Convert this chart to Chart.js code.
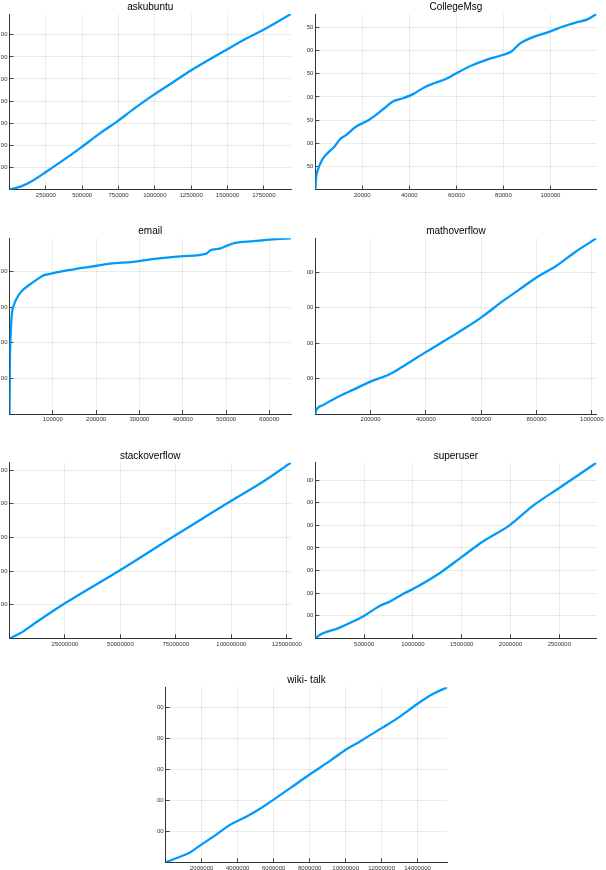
<!DOCTYPE html>
<html>
<head>
<meta charset="utf-8">
<script src="https://cdn.jsdelivr.net/npm/chart.js@4/dist/chart.umd.min.js"></script>
<style>
  html, body { margin: 0; padding: 0; background: #fff; }
  body { width: 606px; height: 870px; position: relative; overflow: hidden; }
  canvas { position: absolute; }
</style>
</head>
<body>
<canvas id="askubuntu"></canvas>
<canvas id="CollegeMsg"></canvas>
<canvas id="email"></canvas>
<canvas id="mathoverflow"></canvas>
<canvas id="stackoverflow"></canvas>
<canvas id="superuser"></canvas>
<canvas id="wikitalk"></canvas>
<script>
// values (y labels are cut off in the original)
const askubuntuX = [0, 80000, 162000, 250000, 375000, 496000, 620000, 737000, 860000, 989000, 1120000, 1242000, 1360000, 1471000, 1620000, 1758000, 1937000]
const askubuntuY = [0, 140, 410, 790, 1350, 1920, 2530, 3060, 3670, 4270, 4830, 5360, 5820, 6240, 6800, 7260, 7940]

const collegeX = [0, 425, 1100, 2600, 4000, 6100, 8200, 10400, 13200, 17400, 23100, 29500, 33000, 37300, 41600, 46500, 50800, 55700, 61400, 67000, 72800, 79900, 83400, 87000, 92600, 99700, 105400, 111000, 116000, 119600]
const collegeY = [0, 29, 43, 61, 72, 83, 93, 108, 118, 136, 151, 176, 190, 197, 206, 221, 230, 239, 255, 269, 280, 291, 298, 315, 329, 341, 352, 361, 368, 379]

const emailX = [0, 800, 2300, 5400, 10800, 17000, 26000, 47700, 63000, 78500, 101500, 132000, 163000, 201500, 232000, 286000, 340000, 401500, 455000, 463000, 486000, 501500, 521000, 563000, 617000, 650000]
const emailY = [0, 276, 426, 558, 616, 650, 684, 728, 754, 778, 790, 806, 818, 832, 844, 854, 872, 886, 900, 918, 928, 944, 960, 970, 982, 986]

const mathX = [0, 3600, 27700, 75900, 136000, 201000, 268700, 316900, 401000, 473500, 533700, 602000, 678000, 738600, 802400, 871000, 943000, 1017000]
const mathY = [0, 55, 125, 230, 340, 460, 560, 670, 875, 1045, 1190, 1365, 1590, 1755, 1930, 2085, 2290, 2475]

const stackX = [0, 4800000, 10800000, 25000000, 50000000, 75000000, 85800000, 100000000, 113000000, 126900000]
const stackY = [0, 300, 840, 2080, 4060, 6140, 7020, 8180, 9200, 10440]

const superX = [0, 44000, 232000, 386000, 498000, 659000, 761000, 898000, 1000000, 1273000, 1495000, 1717000, 1993000, 2229000, 2495000, 2707000, 2881000]
const superY = [0, 150, 440, 740, 990, 1430, 1620, 1960, 2180, 2880, 3580, 4280, 5010, 5860, 6640, 7260, 7770]

const wikiX = [0, 800000, 1350000, 2000000, 2650000, 3570000, 4500000, 5240000, 5980000, 6900000, 7980000, 9130000, 10000000, 10800000, 12000000, 13020000, 13980000, 14870000, 15650000]
const wikiY = [0, 360, 640, 1160, 1660, 2420, 2960, 3460, 4040, 4780, 5660, 6560, 7280, 7820, 8680, 9420, 10240, 10900, 11320]

// tick values
const askubuntuXTicks = [250000, 500000, 750000, 1000000, 1250000, 1500000, 1750000]
const askubuntuYTicks = [1000, 2000, 3000, 4000, 5000, 6000, 7000]
const collegeXTicks = [20000, 40000, 60000, 80000, 100000]
const collegeYTicks = [50, 100, 150, 200, 250, 300, 350]
const emailXTicks = [100000, 200000, 300000, 400000, 500000, 600000]
const emailYTicks = [200, 400, 600, 800]
const mathXTicks = [200000, 400000, 600000, 800000, 1000000]
const mathYTicks = [500, 1000, 1500, 2000]
const stackXTicks = [25000000, 50000000, 75000000, 100000000, 125000000]
const stackYTicks = [2000, 4000, 6000, 8000, 10000]
const superXTicks = [500000, 1000000, 1500000, 2000000, 2500000]
const superYTicks = [1000, 2000, 3000, 4000, 5000, 6000, 7000]
const wikiXTicks = [2000000, 4000000, 6000000, 8000000, 10000000, 12000000, 14000000]
const wikiYTicks = [2000, 4000, 6000, 8000, 10000]

const FONT = "'Liberation Sans', Arial, sans-serif"

// plot box: [axis left, top, right, bottom] in page pixels
const panels = [
  { id: "askubuntu", title: "askubuntu", xs: askubuntuX, ys: askubuntuY, xt: askubuntuXTicks, yt: askubuntuYTicks, box: [9.5, 14, 291, 189.5] },
  { id: "CollegeMsg", title: "CollegeMsg", xs: collegeX, ys: collegeY, xt: collegeXTicks, yt: collegeYTicks, box: [315.3, 14, 596.5, 189.5] },
  { id: "email", title: "email", xs: emailX, ys: emailY, xt: emailXTicks, yt: emailYTicks, box: [9.5, 238.3, 291, 414] },
  { id: "mathoverflow", title: "mathoverflow", xs: mathX, ys: mathY, xt: mathXTicks, yt: mathYTicks, box: [315.3, 238.3, 596.5, 414] },
  { id: "stackoverflow", title: "stackoverflow", xs: stackX, ys: stackY, xt: stackXTicks, yt: stackYTicks, box: [9.5, 462.7, 291, 638.3] },
  { id: "superuser", title: "superuser", xs: superX, ys: superY, xt: superXTicks, yt: superYTicks, box: [315.3, 462.7, 596.5, 638.3] },
  { id: "wikitalk", title: "wiki- talk", xs: wikiX, ys: wikiY, xt: wikiXTicks, yt: wikiYTicks, box: [165.7, 687.3, 447.3, 862.3] },
]

panels.forEach(p => {
  const [x0, y0, x1, y1] = p.box
  const left = Math.round(x0 - 8.5)
  const top = Math.round(y0) - 15
  const yW = x0 - left
  const titleH = y0 - top
  const w = Math.ceil(x1 + 14 - left)
  const h = Math.ceil(y1 - top + 14)
  const padRight = w - (x1 - left)
  const xH = h - (y1 - top)

  const cv = document.getElementById(p.id)
  cv.width = w
  cv.height = h
  cv.style.left = left + "px"
  cv.style.top = top + "px"

  new Chart(cv, {
    type: "line",
    data: {
      datasets: [{
        data: p.xs.map((x, i) => ({ x: x, y: p.ys[i] })),
        borderColor: "#009AFA",
        borderWidth: 2.3,
        pointRadius: 0,
        cubicInterpolationMode: "monotone",
        fill: false,
      }],
    },
    options: {
      responsive: false,
      animation: false,
      layout: { padding: { left: 0, top: 0, right: padRight, bottom: 0 } },
      scales: {
        x: {
          type: "linear",
          min: 0,
          max: p.xs[p.xs.length - 1],
          afterBuildTicks: s => { s.ticks = p.xt.map(v => ({ value: v })) },
          afterFit: s => { s.height = xH; s.paddingLeft = 0; s.paddingRight = 0 },
          grid: { color: "rgba(0,0,0,0.08)", tickLength: -4, tickColor: "#444" },
          border: { color: "#333", width: 1 },
          ticks: {
            autoSkip: false,
            maxRotation: 0,
            padding: 6,
            color: "#333",
            font: { family: FONT, size: 6 },
            callback: v => String(v),
          },
        },
        y: {
          type: "linear",
          min: 0,
          max: p.ys[p.ys.length - 1],
          afterBuildTicks: s => { s.ticks = p.yt.map(v => ({ value: v })) },
          afterFit: s => { s.width = yW; s.paddingTop = 0; s.paddingBottom = 0 },
          grid: { color: "rgba(0,0,0,0.08)", tickLength: -4, tickColor: "#444" },
          border: { color: "#333", width: 1 },
          ticks: {
            padding: 6,
            color: "#333",
            font: { family: FONT, size: 6 },
            callback: v => String(v),
          },
        },
      },
      plugins: {
        legend: { display: false },
        tooltip: { enabled: false },
        title: {
          display: true,
          text: p.title,
          fullSize: false,
          color: "#000",
          font: { family: FONT, size: 10, weight: "normal" },
          padding: { top: 2, bottom: titleH - 14 },
        },
      },
    },
  })
})
</script>
</body>
</html>
